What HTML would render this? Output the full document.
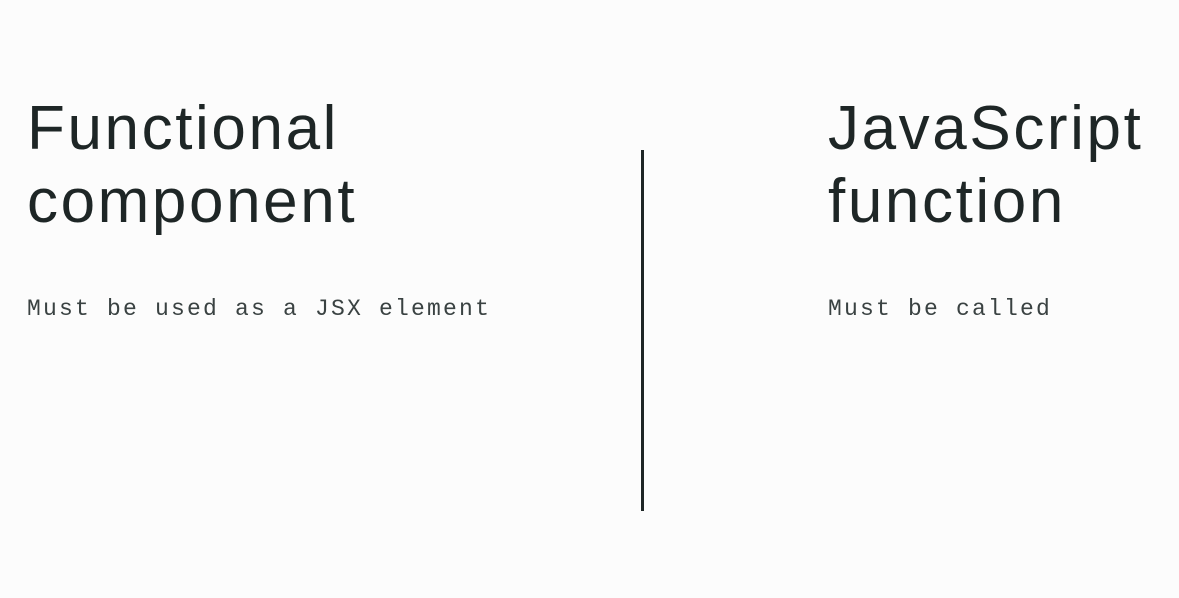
<!DOCTYPE html>
<html><head><style>
body{margin:0;width:1179px;height:598px;background:#fcfcfc;position:relative;overflow:hidden;color:#1e2626;font-family:"Liberation Sans",sans-serif}
.t{position:absolute;font-size:62px;line-height:73px;letter-spacing:2.6px;white-space:nowrap}
.m{position:absolute;font-family:"Liberation Mono",monospace;font-size:23px;letter-spacing:2.2px;color:#3a4242;white-space:nowrap}
</style></head><body>
<div class="t" style="left:27px;top:92px">Functional<br>component</div>
<div class="m" style="left:27px;top:296px">Must be used as a JSX element</div>
<div style="position:absolute;left:641px;top:150px;width:3px;height:361px;background:#1e2626"></div>
<div class="t" style="left:828px;top:92px">JavaScript<br>function</div>
<div class="m" style="left:828px;top:296px">Must be called</div>
</body></html>
